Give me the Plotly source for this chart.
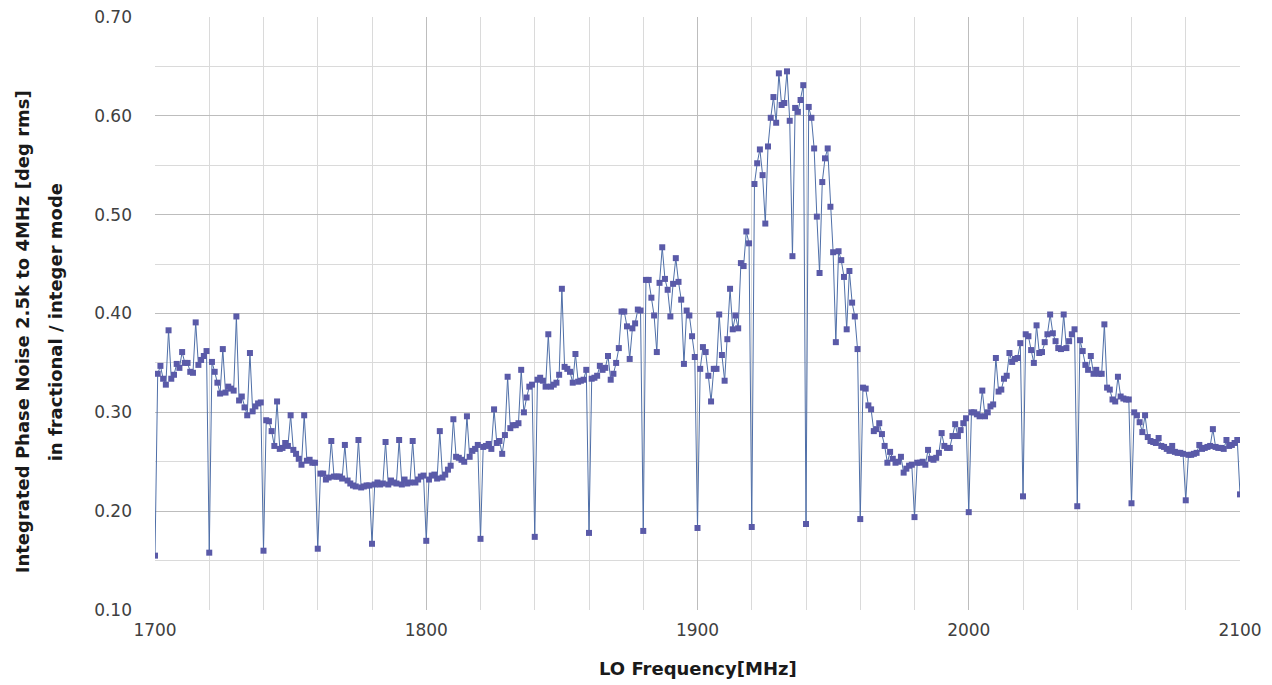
import plotly.graph_objects as go

# LO frequency in 1 MHz steps, 1700..2100
lo_freq = list(range(1700, 2101))

# integrated phase noise [deg rms], one list per 100 MHz band
noise_1700s = [
    0.155, 0.339, 0.347, 0.334, 0.328, 0.383, 0.334, 0.338, 0.349, 0.345,
    0.361, 0.350, 0.350, 0.341, 0.340, 0.391, 0.348, 0.353, 0.357, 0.362,
    0.158, 0.351, 0.341, 0.330, 0.319, 0.364, 0.320, 0.326, 0.324, 0.322,
    0.397, 0.312, 0.316, 0.305, 0.297, 0.360, 0.301, 0.306, 0.309, 0.310,
    0.160, 0.292, 0.291, 0.281, 0.266, 0.311, 0.263, 0.264, 0.269, 0.266,
    0.297, 0.262, 0.258, 0.253, 0.247, 0.297, 0.251, 0.252, 0.249, 0.249,
    0.162, 0.238, 0.238, 0.232, 0.234, 0.271, 0.235, 0.235, 0.235, 0.233,
    0.267, 0.231, 0.228, 0.226, 0.225, 0.272, 0.224, 0.225, 0.226, 0.226,
    0.167, 0.227, 0.229, 0.227, 0.228, 0.270, 0.227, 0.231, 0.229, 0.228,
    0.272, 0.227, 0.232, 0.228, 0.229, 0.271, 0.229, 0.232, 0.235, 0.236,
]
noise_1800s = [
    0.170, 0.232, 0.236, 0.237, 0.233, 0.281, 0.234, 0.237, 0.242, 0.246,
    0.293, 0.255, 0.254, 0.252, 0.250, 0.296, 0.255, 0.261, 0.263, 0.267,
    0.172, 0.265, 0.266, 0.268, 0.263, 0.303, 0.269, 0.271, 0.258, 0.277,
    0.336, 0.284, 0.287, 0.287, 0.289, 0.343, 0.300, 0.315, 0.326, 0.328,
    0.174, 0.333, 0.335, 0.332, 0.326, 0.379, 0.326, 0.328, 0.330, 0.338,
    0.425, 0.346, 0.344, 0.341, 0.330, 0.359, 0.331, 0.332, 0.333, 0.343,
    0.178, 0.334, 0.335, 0.337, 0.347, 0.343, 0.345, 0.357, 0.333, 0.339,
    0.350, 0.365, 0.402, 0.402, 0.387, 0.354, 0.385, 0.390, 0.404, 0.403,
    0.180, 0.434, 0.434, 0.416, 0.398, 0.361, 0.431, 0.467, 0.435, 0.424,
    0.397, 0.430, 0.456, 0.432, 0.414, 0.349, 0.403, 0.398, 0.377, 0.356,
]
noise_1900s = [
    0.183, 0.344, 0.366, 0.361, 0.337, 0.311, 0.344, 0.344, 0.399, 0.358,
    0.332, 0.374, 0.425, 0.384, 0.398, 0.385, 0.451, 0.448, 0.483, 0.471,
    0.184, 0.531, 0.552, 0.566, 0.540, 0.491, 0.569, 0.598, 0.619, 0.593,
    0.643, 0.611, 0.613, 0.645, 0.595, 0.458, 0.608, 0.604, 0.616, 0.631,
    0.187, 0.609, 0.598, 0.567, 0.498, 0.441, 0.533, 0.557, 0.567, 0.508,
    0.462, 0.371, 0.463, 0.454, 0.437, 0.384, 0.443, 0.411, 0.397, 0.364,
    0.192, 0.325, 0.324, 0.307, 0.303, 0.281, 0.283, 0.289, 0.278, 0.266,
    0.249, 0.260, 0.253, 0.249, 0.250, 0.255, 0.239, 0.243, 0.246, 0.247,
    0.194, 0.249, 0.249, 0.250, 0.247, 0.262, 0.253, 0.252, 0.254, 0.259,
    0.279, 0.266, 0.264, 0.264, 0.276, 0.288, 0.276, 0.282, 0.289, 0.294,
]
noise_2000s = [
    0.199, 0.300, 0.300, 0.298, 0.296, 0.322, 0.296, 0.300, 0.306, 0.308,
    0.355, 0.321, 0.323, 0.334, 0.337, 0.360, 0.351, 0.354, 0.355, 0.370,
    0.215, 0.379, 0.377, 0.363, 0.350, 0.388, 0.360, 0.361, 0.371, 0.379,
    0.399, 0.380, 0.372, 0.365, 0.364, 0.399, 0.365, 0.372, 0.379, 0.384,
    0.205, 0.373, 0.362, 0.348, 0.343, 0.357, 0.339, 0.343, 0.339, 0.339,
    0.389, 0.325, 0.323, 0.313, 0.311, 0.336, 0.316, 0.314, 0.313, 0.313,
    0.208, 0.300, 0.297, 0.290, 0.280, 0.297, 0.275, 0.271, 0.270, 0.269,
    0.274, 0.266, 0.265, 0.263, 0.261, 0.266, 0.260, 0.259, 0.259, 0.258,
    0.211, 0.257, 0.257, 0.258, 0.259, 0.267, 0.263, 0.264, 0.265, 0.266,
    0.283, 0.265, 0.264, 0.264, 0.263, 0.272, 0.266, 0.267, 0.269, 0.272,
    0.217,
]

y_ticks = [0.10, 0.20, 0.30, 0.40, 0.50, 0.60, 0.70]
x_ticks = [1700, 1800, 1900, 2000, 2100]

phase_noise = noise_1700s + noise_1800s + noise_1900s + noise_2000s

font = "DejaVu Sans, Verdana, sans-serif"
title_font = dict(family=font, size=18, color="#1a1a1a")

fig = go.Figure()
fig.add_trace(go.Scatter(
    x=lo_freq, y=phase_noise, mode="lines+markers",
    line=dict(color="#4f6fa8", width=1),
    marker=dict(symbol="square", size=6, color="#5a5aa8"),
    showlegend=False,
))

# the page body adds an 8px offset, so margins are trimmed on left/top
fig.update_layout(
    width=1272, height=685,
    margin=dict(l=147, r=40, t=9, b=83, autoexpand=False),
    paper_bgcolor="white", plot_bgcolor="white",
    font=dict(family=font, size=17, color="#404040"),
)
fig.update_xaxes(
    range=[1700, 2100], tickvals=x_ticks, ticks="", automargin=False,
    showgrid=True, gridcolor="#bdbdbd", gridwidth=1,
    minor=dict(dtick=20, showgrid=True, gridcolor="#dadada", gridwidth=1),
    zeroline=False, showline=False, ticklabelstandoff=8,
    ticklabeloverflow="allow",
)
fig.update_yaxes(
    range=[0.10, 0.70], tickvals=y_ticks, tickformat=".2f", ticks="", automargin=False,
    showgrid=True, gridcolor="#bdbdbd", gridwidth=1,
    minor=dict(dtick=0.05, showgrid=True, gridcolor="#dadada", gridwidth=1),
    zeroline=False, showline=False, ticklabelstandoff=22,
    ticklabeloverflow="allow",
)

# axis titles placed as annotations to match the original spacing
fig.add_annotation(text="<b>LO Frequency[MHz]</b>", xref="paper", yref="paper",
                   x=0.5, y=-0.098, xanchor="center", yanchor="middle",
                   showarrow=False, font=title_font)
fig.add_annotation(text="<b>Integrated Phase Noise 2.5k to 4MHz [deg rms]</b>",
                   xref="paper", yref="paper", x=-0.1226, y=0.47,
                   xanchor="center", yanchor="middle", textangle=-90,
                   showarrow=False, font=title_font)
fig.add_annotation(text="<b>in fractional / integer mode</b>",
                   xref="paper", yref="paper", x=-0.0922, y=0.485,
                   xanchor="center", yanchor="middle", textangle=-90,
                   showarrow=False, font=title_font)

fig.write_html("out.html")
